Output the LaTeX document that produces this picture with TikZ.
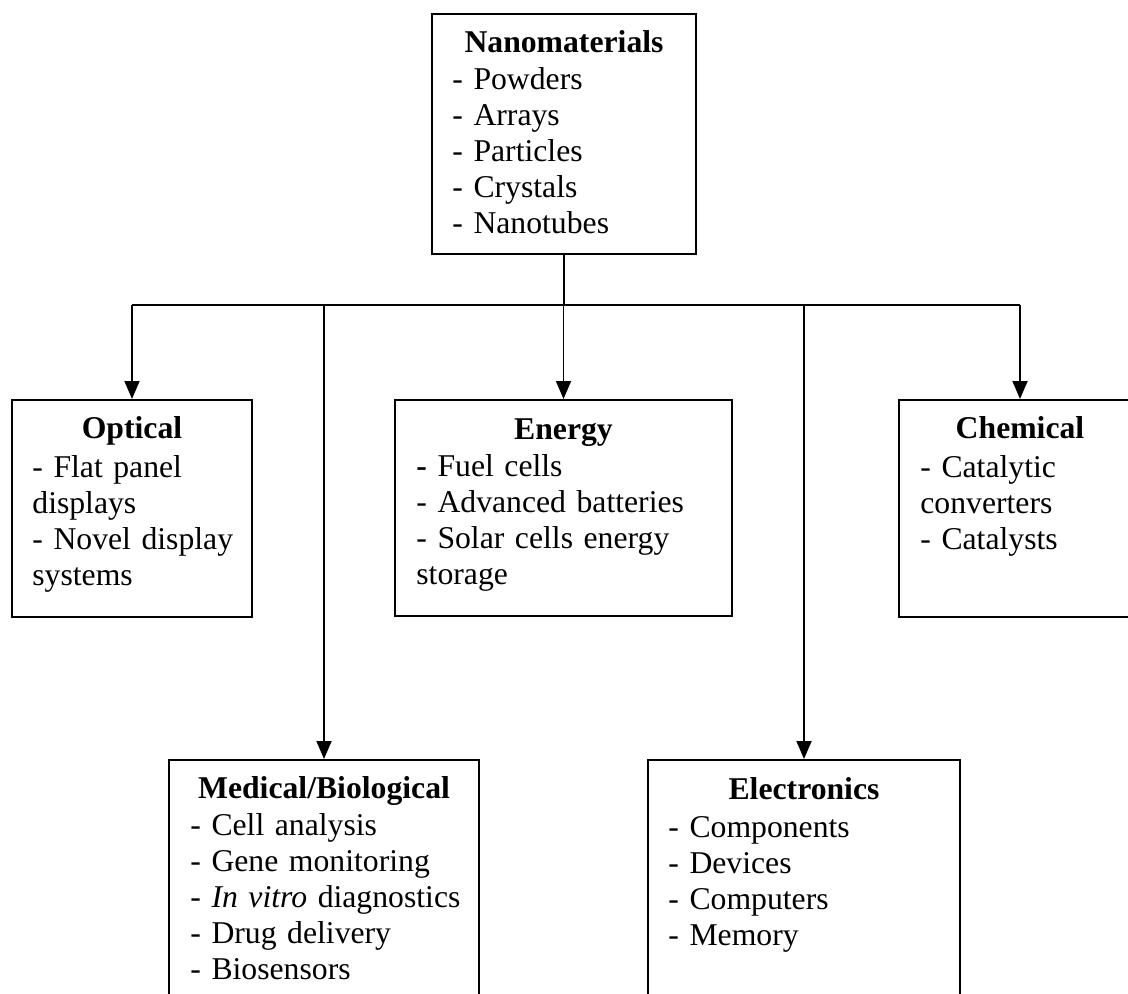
\documentclass[tikz,border=0pt]{standalone}
\usepackage{fontspec}
\setmainfont{Liberation Serif}
\usetikzlibrary{arrows.meta}
\begin{document}
\begin{tikzpicture}[x=0.5pt,y=-0.5pt,
  box/.style={draw, line width=1pt, inner sep=0pt, anchor=north west},
  ttl/.style={anchor=base, inner sep=0pt, font=\fontsize{15.85}{18}\selectfont\bfseries},
  lst/.style={anchor=base west, inner sep=0pt, align=left, text width=#1, font=\fontsize{15.85}{18}\selectfont},
  conn/.style={line width=0.9pt},
  arr/.style={conn, -{Triangle[width=7.5pt,length=9pt]}}]
\useasboundingbox (0,0) rectangle (1128,994);
\clip (0,0) rectangle (1128,994);
% boxes
\node[box, minimum width=132pt, minimum height=120pt] (top) at (431,13) {};
\node[box, minimum width=120pt, minimum height=108.5pt] (opt) at (11,399) {};
\node[box, minimum width=168.5pt, minimum height=108pt] (ene) at (394,399) {};
\node[box, minimum width=121pt, minimum height=108.5pt] (che) at (898,399) {};
\node[box, minimum width=155pt, minimum height=125.5pt] (med) at (168,759) {};
\node[box, minimum width=156pt, minimum height=125.5pt] (ele) at (647,759) {};
% titles
\node[ttl] (ttop) at ([yshift=-20pt]top.north) {Nanomaterials};
\node[ttl] (topt) at ([yshift=-19.75pt]opt.north) {Optical};
\node[ttl] (tene) at ([yshift=-20.25pt]ene.north) {Energy};
\node[ttl] (tche) at ([yshift=-19.75pt]che.north) {Chemical};
\node[ttl] (tmed) at ([yshift=-19.75pt]med.north) {Medical/Biological};
\node[ttl] (tele) at ([yshift=-20.25pt]ele.north) {Electronics};
% lists
\node[lst=115pt] (ltop) at ([xshift=10.5pt,yshift=-38.5pt]top.north west)
  {- Powders\\- Arrays\\- Particles\\- Crystals\\- Nanotubes};
\node[lst=105pt] (lopt) at ([xshift=10.5pt,yshift=-39pt]opt.north west)
  {- Flat panel\\displays\\- Novel display\\systems};
\node[lst=150pt] (lene) at ([xshift=11pt,yshift=-38.5pt]ene.north west)
  {\textbf{-} Fuel cells\\- Advanced batteries\\- Solar cells energy\\storage};
\node[lst=105pt] (lche) at ([xshift=11pt,yshift=-39pt]che.north west)
  {- Catalytic\\converters\\- Catalysts};
\node[lst=140pt] (lmed) at ([xshift=11pt,yshift=-38pt]med.north west)
  {- Cell analysis\\- Gene monitoring\\- \textit{In vitro} diagnostics\\- Drug delivery\\- Biosensors};
\node[lst=140pt] (lele) at ([xshift=10.5pt,yshift=-39pt]ele.north west)
  {- Components\\- Devices\\- Computers\\- Memory};
% connectors
\coordinate (bus) at ([yshift=-25pt]top.south);
\draw[conn] (top.south) -- (bus);
\draw[conn] (bus -| opt.north) -- (bus -| che.north);
\draw[arr] (bus -| opt.north) -- (opt.north);
\draw[arr] (bus -| med.north) -- (med.north);
\draw[arr] (bus -| ene.north) -- (ene.north);
\draw[arr] (bus -| ele.north) -- (ele.north);
\draw[arr] (bus -| che.north) -- (che.north);
\end{tikzpicture}
\end{document}
